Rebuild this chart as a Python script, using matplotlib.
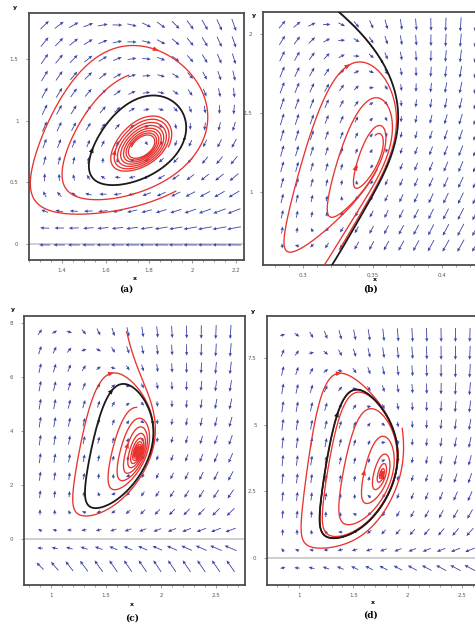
import numpy as np
import matplotlib
matplotlib.use("Agg")
import matplotlib.pyplot as plt
from matplotlib.ticker import MultipleLocator

# phase portraits, x = predator, y = prey
#   y' = y*(A*(1 - y/K) - x/(h + y))
#   x' = c*x*(S*y/(h + y) - M - x)
tags = ['(a)', '(b)', '(c)', '(d)']
par_A = [1.3768, 0.3224, 0.5076, 0.4684]
par_h = [0.918, 0.4863, 1.9857, 2.2968]
par_K = [3.194, 3.362, 9.951, 10.178]
par_S = [4.53, 0.49, 3.1, 3.05]
par_M = [0.325, 0.0, 0.132, 0.0]
par_c = [0.071, 0.080, 0.0232, 0.018]
eq_guess = [(1.77, 0.79), (0.3506, 1.223), (1.788, 3.23), (1.761, 3.14)]

# axes
xlims = [(1.248, 2.237), (0.2712, 0.4273), (0.7545, 2.764), (0.706, 2.739)]
ylims = [(-0.13, 1.873), (0.538, 2.139), (-1.70, 8.26), (-1.01, 9.07)]
xticks = [[1.4, 1.6, 1.8, 2.0, 2.2], [0.3, 0.35, 0.4], [1, 1.5, 2, 2.5], [1, 1.5, 2, 2.5]]
xticklabels = [['1.4', '1.6', '1.8', '2', '2.2'], ['0.3', '0.35', '0.4'],
               ['1', '1.5', '2', '2.5'], ['1', '1.5', '2', '2.5']]
yticks = [[0, 0.5, 1, 1.5], [1, 1.5, 2], [0, 2, 4, 6, 8], [0, 2.5, 5, 7.5]]
yticklabels = [['0', '0.5', '1', '1.5'], ['1', '1.5', '2'],
               ['0', '2', '4', '6', '8'], ['0', '2.5', '5', '7.5']]
xminor = [0.05, 0.01, 0.1, 0.1]

# direction field grid: first, step, count
grid_x = [(1.32, 0.067, 14), (0.285, 0.0107, 14), (0.90, 0.1333, 14), (0.85, 0.1325, 15)]
grid_y = [(-0.008, 0.1372, 14), (0.66, 0.1, 15), (-1.0, 0.6667, 14), (-0.37, 0.6715, 14)]

# black orbit: start (None = where the last red orbit ends), settling time, arrow mark
cyc_start = [(1.50, 0.75), None, (1.35, 3.0), (1.22, 2.0)]
cyc_settle = [60, 0, 60, 60]
cyc_head = [(1.505, 0.78), None, (1.545, 5.49), (1.316, 5.43)]

# red orbits: x0, y0, turns back, turns forward, arrow mark x, y
orbits = [
    [(1.825, 1.58, 0.62, 0.95, 1.835, 1.61), (1.72, 0.79, 0.0, 7.5, 1.644, 0.74)],
    [(0.3319, 1.797, 0.5, 0.6, 0.3319, 1.797), (0.352, 1.36, 0.0, 3.0, 0.334, 1.16)],
    [(1.688, 7.68, 0.0, 1.3, 1.54, 6.15), (1.788, 3.28, 0.0, 11.0, 1.69, 3.46)],
    [(1.95, 4.86, 0.0, 1.3, 1.36, 6.99), (1.756, 3.14, 0.0, 9.0, 1.537, 3.24)],
]

# pixel boxes (left, top, right, bottom) and label spots
W, H = 475, 625
boxes = [(29, 13, 244, 260), (263, 12, 480, 265), (24, 316, 245, 585), (267, 316, 488, 585)]
xlab_at = [(135, 278), (375, 280), (132, 605), (373, 603)]
tag_at = [(126, 289), (370, 289), (132, 618), (370, 615)]
ylab_at = [(15, 7), (254, 15), (13, 310), (253, 312)]

RED = '#e8332e'
BLUE = '#3a46a8'


def rates(p, x, y):
    A, h, K, S, M, c = p
    dy = y * (A * (1.0 - y / K) - x / (h + y))
    dx = c * x * (S * y / (h + y) - M - x)
    return dx, dy


def path(p, x0, y0, T, dt, box):
    n = int(round(abs(T) / dt))
    s = dt if T > 0 else -dt
    out = np.empty((n + 1, 2))
    out[0] = x0, y0
    x, y = x0, y0
    for i in range(n):
        a1, b1 = rates(p, x, y)
        a2, b2 = rates(p, x + 0.5 * s * a1, y + 0.5 * s * b1)
        a3, b3 = rates(p, x + 0.5 * s * a2, y + 0.5 * s * b2)
        a4, b4 = rates(p, x + s * a3, y + s * b3)
        x += s * (a1 + 2 * a2 + 2 * a3 + a4) / 6
        y += s * (b1 + 2 * b2 + 2 * b3 + b4) / 6
        out[i + 1] = x, y
        if not (box[0] < x < box[1] and box[2] < y < box[3]):
            return out[:i + 2]
    return out


def turn_path(p, x0, y0, turns, sign, T0, dt, box, ctr, kx, ky):
    # integrate until the orbit has gone `turns` times round the equilibrium
    pts = [np.array([[x0, y0]])]
    x, y = x0, y0
    for _ in range(int(turns * 12) + 12):
        seg = path(p, x, y, sign * 0.5 * T0, dt, box)
        pts.append(seg[1:])
        x, y = seg[-1]
        allp = np.vstack(pts)
        th = np.unwrap(np.arctan2((allp[:, 1] - ctr[1]) * ky, (allp[:, 0] - ctr[0]) * kx))
        hit = np.where(np.abs(th - th[0]) >= turns * 2 * np.pi)[0]
        if len(hit):
            return allp[:hit[0] + 1]
        if len(seg) < 501:
            return allp
    return np.vstack(pts)


def jac(p, x, y):
    e = 1e-7
    f0 = np.array(rates(p, x, y))
    fx = (np.array(rates(p, x + e, y)) - f0) / e
    fy = (np.array(rates(p, x, y + e)) - f0) / e
    return np.column_stack([fx, fy])


def equilibrium(p, x, y):
    for _ in range(60):
        f = np.array(rates(p, x, y))
        d = np.linalg.solve(jac(p, x, y), -f)
        x, y = x + d[0], y + d[1]
    return x, y


def head(ax, pts, hx, hy, color, kx, ky, size=6.0):
    d = ((pts[:, 0] - hx) * kx) ** 2 + ((pts[:, 1] - hy) * ky) ** 2
    i = int(np.argmin(d))
    j = min(i + 1, len(pts) - 1)
    while j < len(pts) - 1 and np.hypot((pts[j, 0] - pts[i, 0]) * kx, (pts[j, 1] - pts[i, 1]) * ky) < 2:
        j += 1
    if j == i:
        i = max(i - 1, 0)
    ux = (pts[j, 0] - pts[i, 0]) * kx
    uy = (pts[j, 1] - pts[i, 1]) * ky
    n = np.hypot(ux, uy)
    if n == 0:
        return
    ux, uy = ux / n, uy / n
    px, py = pts[i, 0], pts[i, 1]
    tip = (px + ux * size * 0.6 / kx, py + uy * size * 0.6 / ky)
    b1 = (px + (-ux * size * 0.4 - uy * size * 0.4) / kx, py + (-uy * size * 0.4 + ux * size * 0.4) / ky)
    b2 = (px + (-ux * size * 0.4 + uy * size * 0.4) / kx, py + (-uy * size * 0.4 - ux * size * 0.4) / ky)
    ax.fill([tip[0], b1[0], b2[0]], [tip[1], b1[1], b2[1]], color=color, lw=0, zorder=5)


fig = plt.figure(figsize=(W / 100, H / 100), dpi=100)

for k in range(4):
    p = (par_A[k], par_h[k], par_K[k], par_S[k], par_M[k], par_c[k])
    l, t, r, b = boxes[k]
    ax = fig.add_axes([l / W, 1 - b / H, (r - l) / W, (b - t) / H])
    x0, x1 = xlims[k]
    y0, y1 = ylims[k]
    ax.set_xlim(x0, x1)
    ax.set_ylim(y0, y1)
    kx = (r - l) / (x1 - x0)
    ky = (b - t) / (y1 - y0)

    # direction field
    gx = grid_x[k][0] + grid_x[k][1] * np.arange(grid_x[k][2])
    gy = grid_y[k][0] + grid_y[k][1] * np.arange(grid_y[k][2])
    X, Y = np.meshgrid(gx, gy)
    DX, DY = rates(p, X, Y)
    ux, uy = DX * kx, DY * ky
    mag = np.hypot(ux, uy)
    ref = np.percentile(mag, 92)
    L = np.clip(13.0 * (mag / ref) ** 0.45, 4.5, 14.0)
    U = ux / mag * L / kx
    V = uy / mag * L / ky
    ax.quiver(X, Y, U, V, angles='xy', scale_units='xy', scale=1, pivot='mid',
              color=BLUE, units='dots', width=0.85, headwidth=4.0, headlength=4.5,
              headaxislength=4.0, zorder=2)

    if y0 < 0 < y1:
        ax.axhline(0, color='0.78', lw=1.2, zorder=1)

    xe, ye = equilibrium(p, *eq_guess[k])
    ev = np.linalg.eigvals(jac(p, xe, ye))
    T0 = 2 * np.pi / max(abs(ev[0].imag), 1e-6)
    dt = T0 / 1000.0
    box = (1e-4, 20.0, -0.9 * par_h[k], 4 * par_K[k])

    # red orbits
    end = None
    for (ox, oy, tb, tf, hx, hy) in orbits[k]:
        parts = []
        if tb > 0:
            parts.append(turn_path(p, ox, oy, tb, -1, T0, dt, box, (xe, ye), kx, ky)[::-1])
        if tf > 0:
            fw = turn_path(p, ox, oy, tf, 1, T0, dt, box, (xe, ye), kx, ky)
            parts.append(fw[1:] if parts else fw)
        pts = np.vstack(parts)
        end = pts[-1]
        ax.plot(pts[:, 0], pts[:, 1], color=RED, lw=0.95, zorder=3)
        head(ax, pts, hx, hy, RED, kx, ky)

    # black closed orbit, one turn
    if cyc_start[k] is None:
        sx, sy = end
    else:
        sx, sy = cyc_start[k]
    if cyc_settle[k] > 0:
        tr = path(p, sx, sy, cyc_settle[k] * T0, dt, box)
        sx, sy = tr[-1]
    cyc = turn_path(p, sx, sy, 1.0, 1, T0, dt, box, (xe, ye), kx, ky)
    ax.plot(cyc[:, 0], cyc[:, 1], color='#1a1a1a', lw=1.3, zorder=4)
    if cyc_head[k] is not None:
        head(ax, cyc, cyc_head[k][0], cyc_head[k][1], '#1a1a1a', kx, ky)

    # frame and ticks
    for sp in ax.spines.values():
        sp.set_linewidth(1.3)
        sp.set_color('0.3')
    ax.set_xticks(xticks[k])
    ax.set_xticklabels(xticklabels[k])
    ax.set_yticks(yticks[k])
    ax.set_yticklabels(yticklabels[k])
    ax.xaxis.set_minor_locator(MultipleLocator(xminor[k]))
    ax.tick_params(which='both', direction='out', labelsize=4, labelcolor='0.35',
                   color='0.45', width=0.5, pad=3)
    ax.tick_params(which='major', length=2.5)
    ax.tick_params(which='minor', length=1.5)
    ax.tick_params(axis='y', pad=5)

    fig.text(xlab_at[k][0] / W, 1 - xlab_at[k][1] / H, 'x', fontsize=4.5,
             fontweight='bold', ha='center', va='center')
    fig.text(ylab_at[k][0] / W, 1 - ylab_at[k][1] / H, 'y', fontsize=4.5,
             fontweight='bold', ha='center', va='center')
    fig.text(tag_at[k][0] / W, 1 - tag_at[k][1] / H, tags[k], fontsize=6.5,
             family='DejaVu Serif', fontweight='bold', ha='center', va='center')

fig.savefig('out.png', dpi=100)
